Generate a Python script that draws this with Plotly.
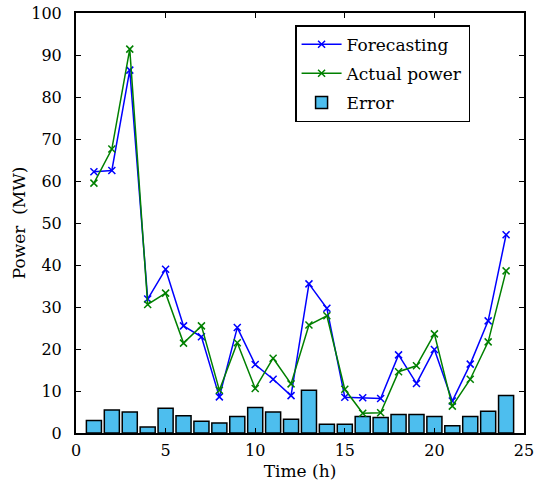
import plotly.graph_objects as go

hours = list(range(1, 25))
forecasting = [62.2, 62.5, 86.4, 31.9, 39.0, 25.5, 22.9, 8.6, 25.1, 16.3, 12.8, 8.9,
               35.5, 29.7, 8.5, 8.4, 8.2, 18.6, 11.8, 19.9, 7.6, 16.4, 26.7, 47.2]
actual = [59.5, 67.6, 91.4, 30.6, 33.3, 21.4, 25.5, 10.2, 21.5, 10.6, 17.8, 11.7,
          25.7, 27.9, 10.4, 4.7, 4.8, 14.6, 16.0, 23.6, 6.4, 12.8, 21.7, 38.6]
error = [3.0, 5.5, 5.0, 1.4, 5.9, 4.1, 2.8, 2.4, 3.9, 6.1, 5.0, 3.3,
         10.2, 2.1, 2.1, 3.9, 3.7, 4.4, 4.4, 3.9, 1.7, 3.9, 5.2, 8.9]

FONT = "DejaVu Serif"
FS = 17
TFS = 16

fig = go.Figure()
fig.add_trace(go.Bar(
    x=hours, y=error, name="Error", width=0.84, legendgroup="c", legendrank=3,
    marker=dict(color="#4DBEEE", line=dict(color="black", width=1.5)),
))
fig.add_trace(go.Scatter(
    x=hours, y=forecasting, name="Forecasting", mode="lines+markers",
    legendgroup="a", legendrank=1,
    line=dict(color="#0000FF", width=1.5),
    marker=dict(symbol="x-thin", size=7, line=dict(color="#0000FF", width=1.5)),
))
fig.add_trace(go.Scatter(
    x=hours, y=actual, name="Actual power", mode="lines+markers",
    legendgroup="b", legendrank=2,
    line=dict(color="#008000", width=1.5),
    marker=dict(symbol="x-thin", size=7, line=dict(color="#008000", width=1.5)),
))

axis_common = dict(
    showline=True, linecolor="black", linewidth=2, mirror="ticks",
    ticks="inside", ticklen=5, tickwidth=1, tickcolor="black",
    showgrid=False, zeroline=False,
    tickfont=dict(family=FONT, size=TFS, color="black"),
)

fig.update_layout(
    width=555, height=489,
    margin=dict(l=76, r=31, t=13, b=56, autoexpand=False),
    paper_bgcolor="white", plot_bgcolor="white",
    font=dict(family=FONT, size=FS, color="black"),
    showlegend=True,
    legend=dict(
        x=0.489, y=0.971, xanchor="left", yanchor="top",
        bordercolor="black", borderwidth=1.5, bgcolor="white",
        font=dict(family=FONT, size=FS, color="black"),
        traceorder="grouped", tracegroupgap=4, itemwidth=40,
    ),
    xaxis=dict(range=[0, 25], tickvals=[0, 5, 10, 15, 20, 25],
               ticklabelstandoff=2,
               title=dict(text="Time (h)", standoff=6,
                          font=dict(family=FONT, size=FS)),
               **axis_common),
    yaxis=dict(range=[0, 100], tickvals=list(range(0, 101, 10)),
               ticklabelstandoff=9,
               title=dict(text="Power  (MW)", standoff=1,
                          font=dict(family=FONT, size=FS)),
               **axis_common),
)

fig.write_html("out.html")
